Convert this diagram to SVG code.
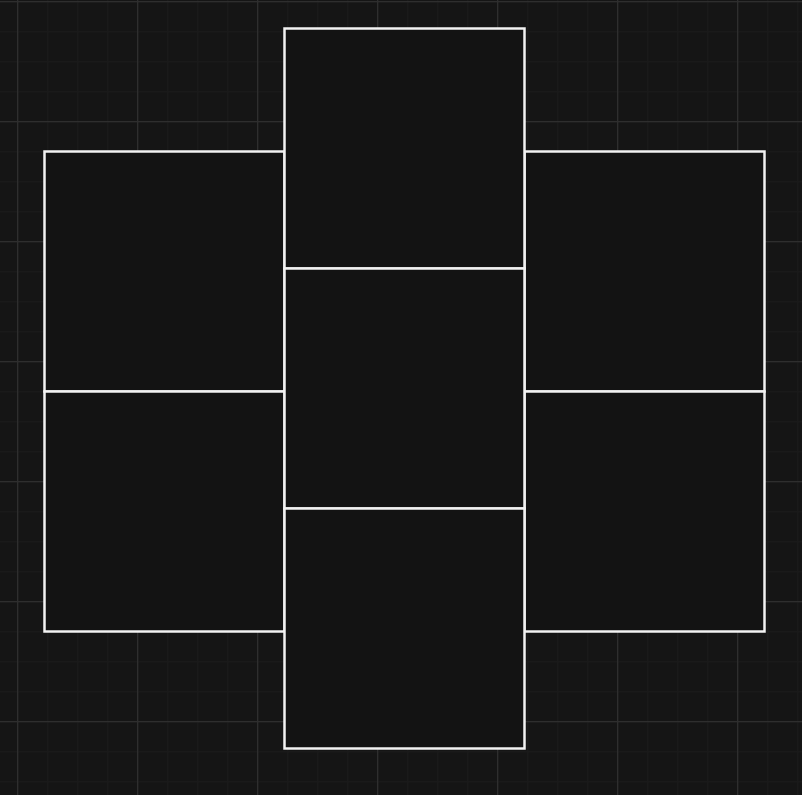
<svg xmlns="http://www.w3.org/2000/svg" width="802" height="795" viewBox="0 0 802 795">
<defs>
<pattern id="minor" x="17" y="1" width="30" height="30" patternUnits="userSpaceOnUse">
<path d="M0 0V30M0 0H30" fill="none" stroke="#1a1a1a" stroke-width="3"/>
</pattern>
<pattern id="major" x="17" y="1" width="120" height="120" patternUnits="userSpaceOnUse">
<path d="M0 0V120M0 0H120" fill="none" stroke="#2e2e2e" stroke-width="2.5"/>
</pattern>
</defs>
<style>
.box{fill:#131313;stroke:#f2f2f2;stroke-width:2.5}
</style>
<rect width="802" height="795" fill="#151515"/>
<rect width="802" height="795" fill="url(#minor)"/>
<rect width="802" height="795" fill="url(#major)"/>
<g id="left-top"><rect class="box" x="44.5" y="151.5" width="240" height="240"/></g>
<g id="left-bottom"><rect class="box" x="44.5" y="391.5" width="240" height="240"/></g>
<g id="right-top"><rect class="box" x="524.5" y="151.5" width="240" height="240"/></g>
<g id="right-bottom"><rect class="box" x="524.5" y="391.5" width="240" height="240"/></g>
<g id="center-top"><rect class="box" x="284.5" y="28.5" width="240" height="240"/></g>
<g id="center-middle"><rect class="box" x="284.5" y="268.5" width="240" height="240"/></g>
<g id="center-bottom"><rect class="box" x="284.5" y="508.5" width="240" height="240"/></g>
<g id="connectors"></g>
</svg>
